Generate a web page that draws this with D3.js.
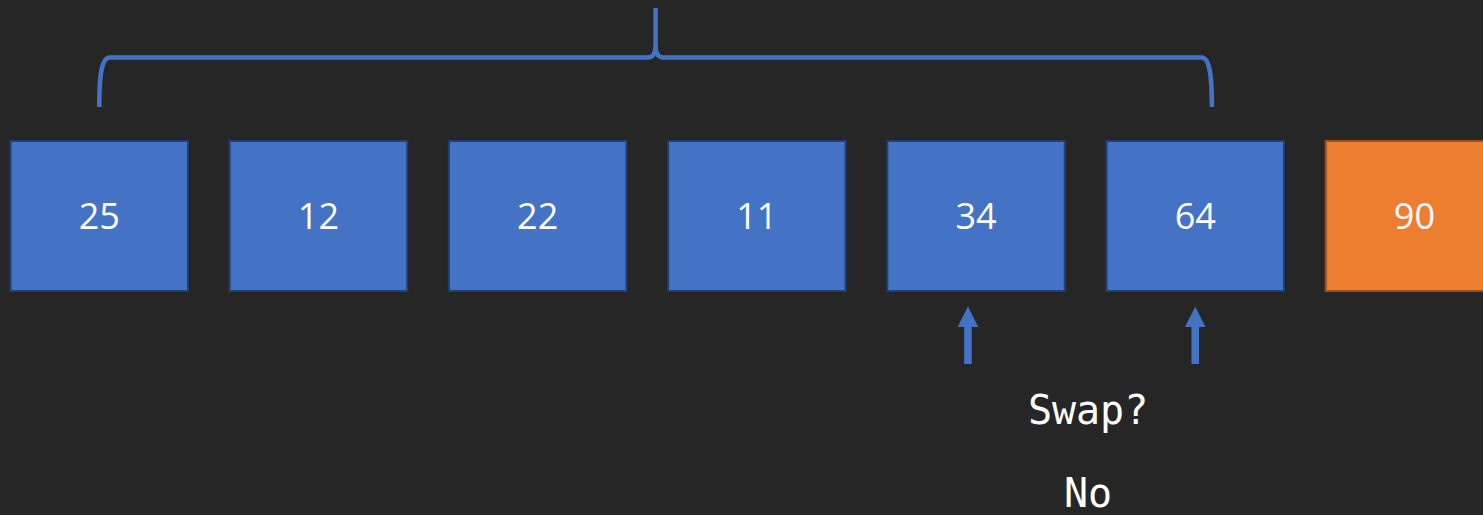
<!DOCTYPE html>
<html>
<head>
<meta charset="utf-8">
<script src="https://cdn.jsdelivr.net/npm/d3@7"></script>
<style>
  html, body { margin: 0; padding: 0; background: #262626; overflow: hidden; }
</style>
</head>
<body>
<div id="chart-area"></div>
<script>
const WIDTH = 1483;
const HEIGHT = 515;

// array state for this step of the bubble sort
const values = [25, 12, 22, 11, 34, 64, 90];
const sorted = [false, false, false, false, false, false, true];
// slots being compared (arrow positions, in slot units)
const pointers = [3.963, 5];
// brace covers the unsorted part (slot units, centre to centre)
const braceSpan = [0, 5.076];
const messages = ["Swap?", "No"];

const svg = d3.select('#chart-area').append('svg')
    .attr('width', WIDTH)
    .attr('height', HEIGHT);

svg.append("rect")
    .attr("width", WIDTH)
    .attr("height", HEIGHT)
    .attr("fill", "#262626");

// slot index -> left edge of box
const x = d3.scaleLinear()
    .domain([0, 1])
    .range([10.5, 229.7]);
const BOX_W = 177.5;
const cx = i => x(i) + BOX_W / 2;

const BOX_TOP = 141;
const BOX_H = 150;

// boxes
const boxes = svg.selectAll("g.box")
    .data(values)
    .enter().append("g")
    .attr("class", "box")
    .attr("transform", (d, i) => `translate(${x(i)}, ${BOX_TOP})`);

boxes.append("rect")
    .attr("width", BOX_W)
    .attr("height", BOX_H)
    .attr("fill", (d, i) => sorted[i] ? "#ed7d31" : "#4472c4")
    .attr("stroke", (d, i) => sorted[i] ? "#9c4f1c" : "#223f73")
    .attr("stroke-width", 2);

boxes.append("text")
    .attr("x", BOX_W / 2)
    .attr("y", BOX_H / 2 + 13)
    .attr("text-anchor", "middle")
    .attr("font-family", "'Open Sans', sans-serif")
    .attr("font-size", "36px")
    .attr("fill", "#ffffff")
    .text(d => d);

// brace over the unsorted part
const bx0 = cx(braceSpan[0]);
const bx1 = cx(braceSpan[1]);
const mid = (bx0 + bx1) / 2;
const yEnd = 107, yBar = 57.5, yTip = 8;

const bp = d3.path();
bp.moveTo(bx0, yEnd);
bp.bezierCurveTo(bx0, 85, bx0 + 0.5, yBar, bx0 + 10.5, yBar);
bp.lineTo(mid - 8, yBar);
bp.quadraticCurveTo(mid, yBar, mid, yBar - 12);
bp.lineTo(mid, yTip);
bp.moveTo(mid, yTip);
bp.lineTo(mid, yBar - 12);
bp.quadraticCurveTo(mid, yBar, mid + 8, yBar);
bp.lineTo(bx1 - 10.5, yBar);
bp.bezierCurveTo(bx1 - 0.5, yBar, bx1, 85, bx1, yEnd);

svg.append("path")
    .attr("d", bp.toString())
    .attr("fill", "none")
    .attr("stroke", "#4472c4")
    .attr("stroke-width", 4.5)
    .attr("stroke-linejoin", "round");

// arrows under the compared pair
const arrows = svg.selectAll("g.arrow")
    .data(pointers)
    .enter().append("g")
    .attr("class", "arrow")
    .attr("transform", d => `translate(${cx(d)}, 0)`);

arrows.append("rect")
    .attr("x", -3.8)
    .attr("y", 326)
    .attr("width", 7.6)
    .attr("height", 38)
    .attr("fill", "#4472c4");

arrows.append("path")
    .attr("d", "M0,306.5 L10.3,327 L-10.3,327 Z")
    .attr("fill", "#4472c4");

// question and answer, under the compared pair
const textX = (cx(pointers[0]) + cx(pointers[1])) / 2 + 6.5;
svg.selectAll("text.msg")
    .data(messages)
    .enter().append("text")
    .attr("class", "msg")
    .attr("x", textX)
    .attr("y", (d, i) => 424 + i * 83)
    .attr("text-anchor", "middle")
    .attr("font-family", "'DejaVu Sans Mono', monospace")
    .attr("font-size", "40px")
    .attr("fill", "#ffffff")
    .text(d => d);
</script>
</body>
</html>
